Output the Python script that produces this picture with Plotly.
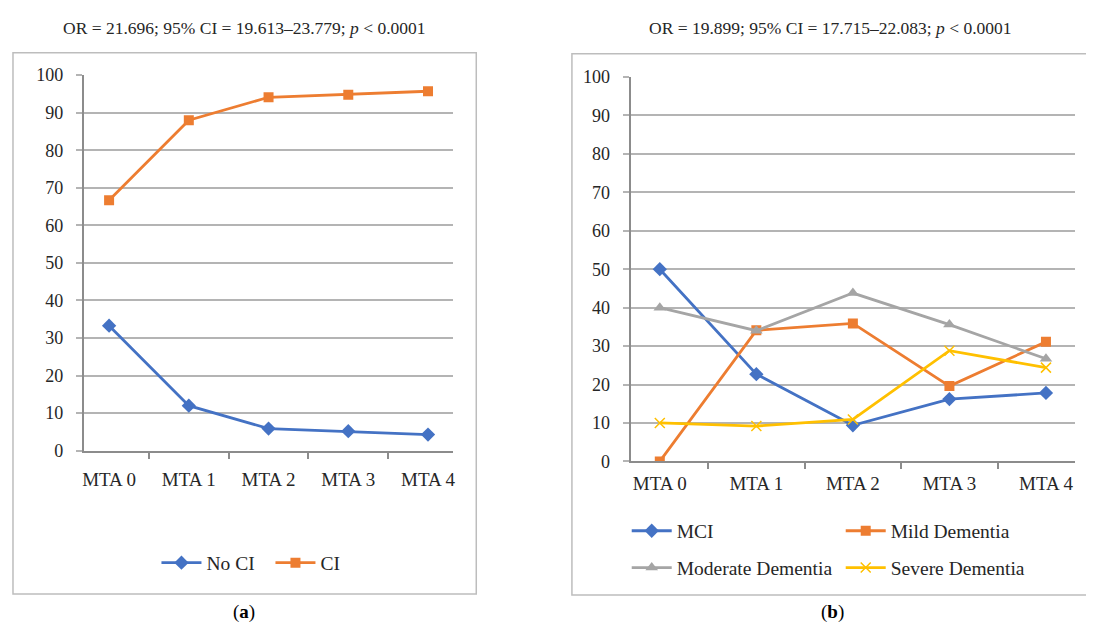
import plotly.graph_objects as go

# The page body has an 8px margin, so the figure is drawn 8px smaller and shifted.
OFF = 8
W, H = 1094 - OFF, 635 - OFF

categories = ["MTA 0", "MTA 1", "MTA 2", "MTA 3", "MTA 4"]

# Panel (a)
no_ci = [33.3, 12.0, 5.9, 5.2, 4.3]
ci = [66.7, 88.0, 94.1, 94.8, 95.7]

# Panel (b)
mci = [50.0, 22.7, 9.4, 16.2, 17.8]
mild = [0.0, 34.1, 35.9, 19.6, 31.1]
moderate = [40.0, 34.0, 43.8, 35.6, 26.7]
severe = [10.0, 9.2, 10.9, 28.8, 24.4]

title_a = "OR = 21.696; 95% CI = 19.613–23.779; <i>p</i> < 0.0001"
title_b = "OR = 19.899; 95% CI = 17.715–22.083; <i>p</i> < 0.0001"

BLUE = "#4472C4"
ORANGE = "#ED7D31"
GRAY = "#A5A5A5"
YELLOW = "#FFC000"
FONT = "Liberation Serif"
TXT = "#262626"


def px_x(p):
    return (p - OFF) / W


def px_y(p):
    return 1 - (p - OFF) / H


fig = go.Figure()

LW = 2.8

fig.add_trace(go.Scatter(x=categories, y=no_ci, name="No CI", mode="lines+markers",
                         line=dict(color=BLUE, width=LW),
                         marker=dict(symbol="diamond", size=11, color=BLUE),
                         xaxis="x", yaxis="y", legend="legend"))
fig.add_trace(go.Scatter(x=categories, y=ci, name="CI", mode="lines+markers",
                         line=dict(color=ORANGE, width=LW),
                         marker=dict(symbol="square", size=10, color=ORANGE),
                         xaxis="x", yaxis="y", legend="legend"))

fig.add_trace(go.Scatter(x=categories, y=mci, name="MCI", mode="lines+markers",
                         line=dict(color=BLUE, width=LW),
                         marker=dict(symbol="diamond", size=11, color=BLUE),
                         xaxis="x2", yaxis="y2", legend="legend2"))
fig.add_trace(go.Scatter(x=categories, y=mild, name="Mild Dementia", mode="lines+markers",
                         line=dict(color=ORANGE, width=LW),
                         marker=dict(symbol="square", size=10, color=ORANGE),
                         xaxis="x2", yaxis="y2", legend="legend2"))
fig.add_trace(go.Scatter(x=categories, y=moderate, name="Moderate Dementia", mode="lines+markers",
                         line=dict(color=GRAY, width=LW),
                         marker=dict(symbol="triangle-up", size=11, color=GRAY),
                         xaxis="x2", yaxis="y2", legend="legend3"))
fig.add_trace(go.Scatter(x=categories, y=severe, name="Severe Dementia", mode="lines+markers",
                         line=dict(color=YELLOW, width=LW),
                         marker=dict(symbol="x-thin", size=10, color=YELLOW,
                                     line=dict(color=YELLOW, width=1.5)),
                         xaxis="x2", yaxis="y2", legend="legend3"))

GRID = "#B4B4B4"
AXIS = "#8C8C8C"

xcommon = dict(type="category", showgrid=False, showline=True, linecolor=AXIS, linewidth=2,
               ticks="outside", tickson="boundaries", ticklen=6, tickcolor=AXIS, tickwidth=1.5,
               tickfont=dict(family=FONT, size=19, color=TXT),
               fixedrange=True, zeroline=False)
ycommon = dict(range=[0, 100], dtick=10, showgrid=True, gridcolor=GRID, gridwidth=1.5,
               showline=True, linecolor=AXIS, linewidth=2, ticks="outside", ticklen=6,
               tickcolor=GRID, tickwidth=1.5,
               tickfont=dict(family=FONT, size=18, color=TXT), ticklabelstandoff=9,
               zeroline=False, fixedrange=True)

legfont = dict(family=FONT, size=19.5, color=TXT)

fig.update_layout(
    width=W, height=H,
    margin=dict(l=0, r=0, t=0, b=0),
    paper_bgcolor="white", plot_bgcolor="white",
    xaxis=dict(domain=[px_x(82), px_x(453)], anchor="y", ticklabelstandoff=10, **xcommon),
    yaxis=dict(domain=[px_y(455), px_y(67)], anchor="x", **ycommon),
    xaxis2=dict(domain=[px_x(631), px_x(1077)], anchor="y2", ticklabelstandoff=4, **xcommon),
    yaxis2=dict(domain=[px_y(466), px_y(69)], anchor="x2", **ycommon),
    legend=dict(orientation="h", x=px_x(155), y=px_y(571), xanchor="left", yanchor="middle",
                font=legfont, itemwidth=40, entrywidth=59, entrywidthmode="pixels",
                bgcolor="rgba(0,0,0,0)"),
    legend2=dict(orientation="h", x=px_x(627), y=px_y(538), xanchor="left", yanchor="middle",
                 font=legfont, itemwidth=40, entrywidth=159, entrywidthmode="pixels",
                 bgcolor="rgba(0,0,0,0)"),
    legend3=dict(orientation="h", x=px_x(627), y=px_y(576), xanchor="left", yanchor="middle",
                 font=legfont, itemwidth=40, entrywidth=159, entrywidthmode="pixels",
                 bgcolor="rgba(0,0,0,0)"),
    showlegend=True,
    hovermode=False,
)

FRAME = "#BDBDBD"
fig.add_shape(type="rect", xref="paper", yref="paper",
              x0=px_x(11), x1=px_x(476), y0=px_y(603), y1=px_y(44),
              line=dict(color=FRAME, width=1.5), layer="below")
fig.add_shape(type="rect", xref="paper", yref="paper",
              x0=px_x(572), x1=px_x(1092), y0=px_y(604), y1=px_y(45),
              line=dict(color=FRAME, width=1.5), layer="below")

fig.add_annotation(text=title_a, x=px_x(243), y=px_y(18), xref="paper", yref="paper",
                   showarrow=False, font=dict(family=FONT, size=17.5, color=TXT),
                   xanchor="center", yanchor="middle")
fig.add_annotation(text=title_b, x=px_x(832), y=px_y(18), xref="paper", yref="paper",
                   showarrow=False, font=dict(family=FONT, size=17.5, color=TXT),
                   xanchor="center", yanchor="middle")
fig.add_annotation(text="(<b>a</b>)", x=px_x(243), y=px_y(622), xref="paper", yref="paper",
                   showarrow=False, font=dict(family=FONT, size=19, color="#000000"),
                   xanchor="center", yanchor="middle")
fig.add_annotation(text="(<b>b</b>)", x=px_x(834), y=px_y(622), xref="paper", yref="paper",
                   showarrow=False, font=dict(family=FONT, size=19, color="#000000"),
                   xanchor="center", yanchor="middle")

fig.write_html("out.html", config={"displayModeBar": False})
